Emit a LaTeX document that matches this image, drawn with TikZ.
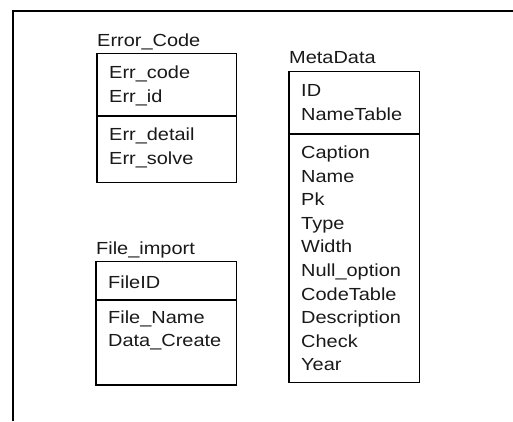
\documentclass[tikz,border=0pt]{standalone}
\usepackage{fontspec}
\setmainfont[FakeStretch=1.14]{Liberation Sans}
\begin{document}
\begin{tikzpicture}[x=1pt,y=-1pt]
\tikzset{
  lbl/.style={anchor=base west, inner sep=0pt, font=\fontsize{17.5}{20}\selectfont, text=black!90},
  tbl/.style={draw, line width=1.3pt},
  frame/.style={draw, line width=2pt}
}
\useasboundingbox (0,0) rectangle (513,421);
% outer frame
\draw[frame] (13,421) -- (13,10.5) -- (513,10.5);

% Error_Code
\node[lbl] (ect) at (97,46) {Error\_Code};
\draw[tbl] (97,53.3) coordinate (ecA) rectangle (236.7,182.7) coordinate (ecB);
\draw[tbl] (97,116) -- (236.7,116);
\node[lbl] (ec1) at (109,78.7) {Err\_code};
\node[lbl] (ec2) at (109,102.5) {Err\_id};
\node[lbl] (ec3) at (109,140.5) {Err\_detail};
\node[lbl] (ec4) at (109,164.2) {Err\_solve};

% MetaData
\node[lbl] (mdt) at (289,63.3) {MetaData};
\draw[tbl] (289,71.7) coordinate (mdA) rectangle (419.3,382.3) coordinate (mdB);
\draw[tbl] (289,134) -- (419.3,134);
\node[lbl] (md1) at (301,96.7) {ID};
\node[lbl] (md2) at (301,120.3) {NameTable};
\node[lbl] (md3) at (301,158.4) {Caption};
\node[lbl] (md4) at (301,182.0) {Name};
\node[lbl] (md5) at (301,205.6) {Pk};
\node[lbl] (md6) at (301,229.2) {Type};
\node[lbl] (md7) at (301,252.8) {Width};
\node[lbl] (md8) at (301,276.4) {Null\_option};
\node[lbl] (md9) at (301,300.0) {CodeTable};
\node[lbl] (md10) at (301,323.6) {Description};
\node[lbl] (md11) at (301,347.2) {Check};
\node[lbl] (md12) at (301,370.8) {Year};

% File_import
\node[lbl] (fit) at (96,254.5) {File\_import};
\draw[tbl] (96,261.7) coordinate (fiA) rectangle (236.7,385) coordinate (fiB);
\draw[tbl] (96,300) -- (236.7,300);
\node[lbl] (fi1) at (108,288.3) {FileID};
\node[lbl] (fi2) at (108,323.3) {File\_Name};
\node[lbl] (fi3) at (108,346.8) {Data\_Create};
\end{tikzpicture}
\end{document}
